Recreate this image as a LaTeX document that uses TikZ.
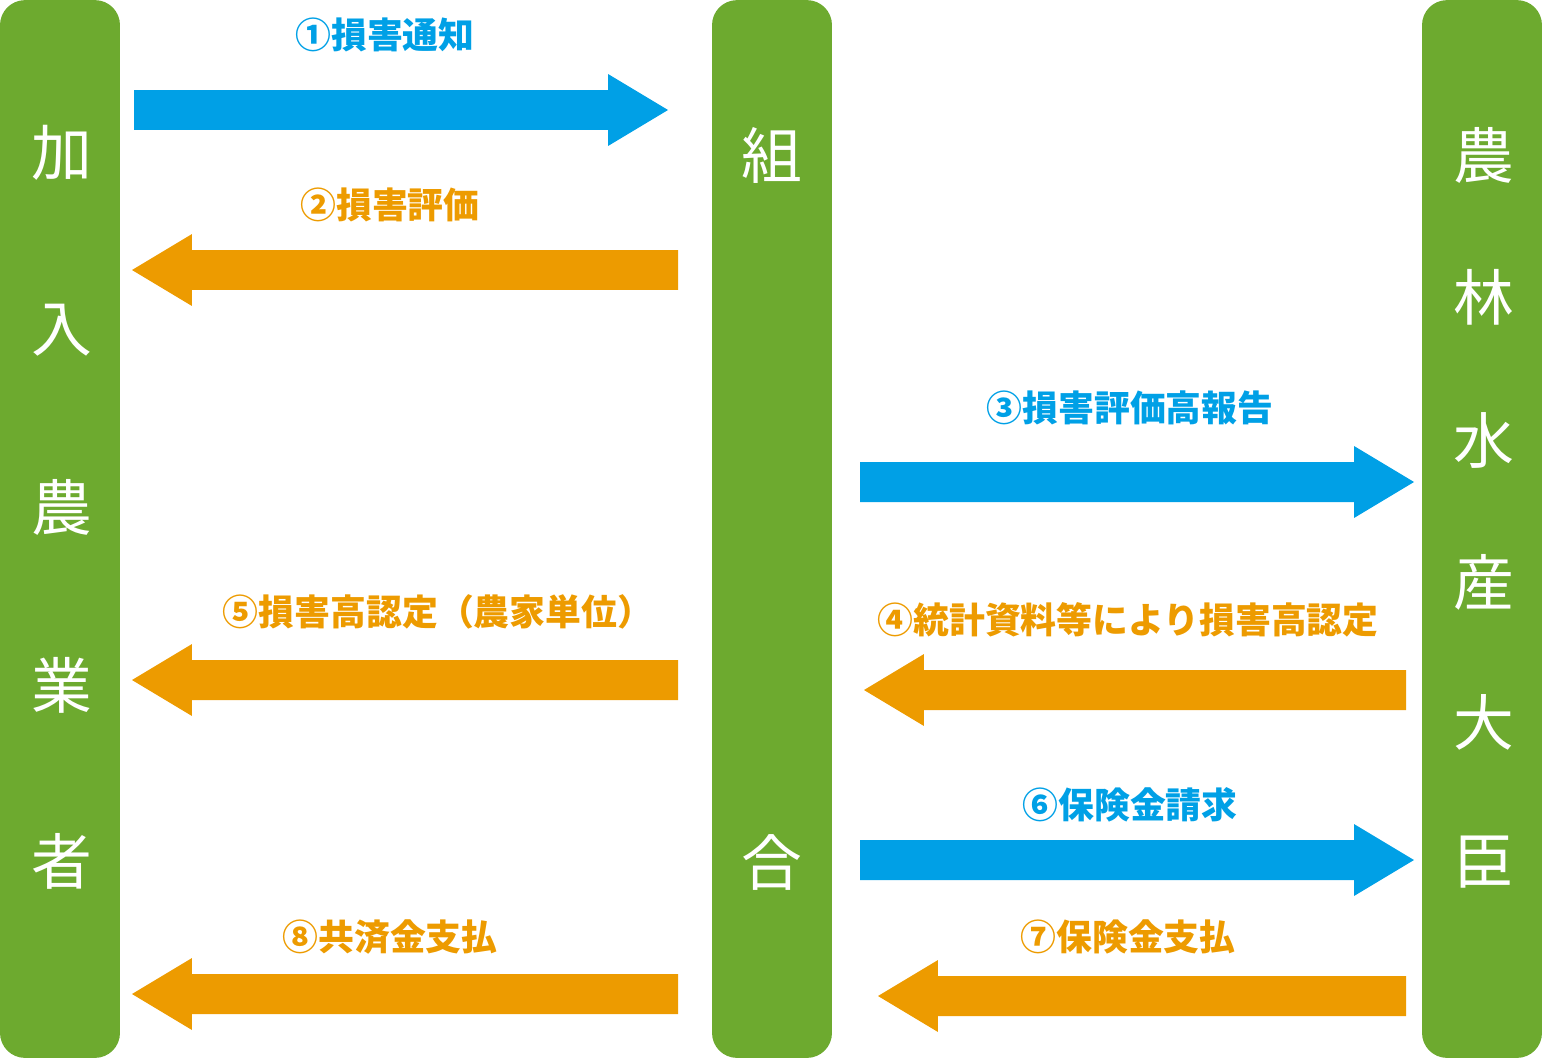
\documentclass[tikz,border=0pt]{standalone}
\usepackage{fontspec}
\setmainfont{Noto Sans CJK JP}
\usetikzlibrary{calc}

\definecolor{bargreen}{HTML}{6DAA2F}
\definecolor{sendblue}{HTML}{00A0E6}
\definecolor{backorange}{HTML}{ED9B00}

\tikzset{
    fatarrow/.style={
        to path={
            let \p1=(\tikztostart),
                \p2=(\tikztotarget),
                \p3=($(\tikztotarget)!1.2cm!(\tikztostart)$) in
            (\x1,\y1+0.4cm) -- (\x3,\y1+0.4cm) -- (\x3,\y1+0.72cm)
            -- (\x2,\y2)
            -- (\x3,\y1-0.72cm) -- (\x3,\y1-0.4cm) -- (\x1,\y1-0.4cm) -- cycle
        }
    }
}

\tikzstyle{bar} = [
    rectangle,
    rounded corners=0.5cm,
    minimum width=2.4cm,
    minimum height=21.16cm,
    inner sep=0pt,
    fill=bargreen
]
\tikzstyle{barchar} = [
    text=white,
    inner sep=0pt,
    font=\fontsize{34.6}{40}\selectfont
]
\tikzstyle{sendlabel} = [
    text=sendblue,
    inner sep=0pt,
    font=\bfseries\fontsize{20.4}{24}\selectfont
]
\tikzstyle{backlabel} = [
    text=backorange,
    inner sep=0pt,
    font=\bfseries\fontsize{20.4}{24}\selectfont
]
\tikzstyle{send} = [fill=sendblue, fatarrow]
\tikzstyle{back} = [fill=backorange, fatarrow]

\begin{document}
\begin{tikzpicture}[x=0.02cm, y=-0.02cm]

\useasboundingbox (0,0) rectangle (1542,1058);

% the three parties
\node (farmer) [bar] at (60,529) {};
\node (union) [bar] at (772,529) {};
\node (minister) [bar] at (1482,529) {};

\node (farmer1) [barchar] at (62,153) {加};
\node (farmer2) [barchar] at (62,330) {入};
\node (farmer3) [barchar] at (62,507) {農};
\node (farmer4) [barchar] at (62,685) {業};
\node (farmer5) [barchar] at (62,861) {者};

\node (union1) [barchar] at (772,155) {組};
\node (union2) [barchar] at (772,862) {合};

\node (minister1) [barchar] at (1484,155) {農};
\node (minister2) [barchar] at (1484,297) {林};
\node (minister3) [barchar] at (1484,440) {水};
\node (minister4) [barchar] at (1484,582) {産};
\node (minister5) [barchar] at (1484,722) {大};
\node (minister6) [barchar] at (1484,862) {臣};

% arrow ends
\coordinate (a1s) at (134,110);
\coordinate (a1e) at (668,110);
\coordinate (a2s) at (678,270);
\coordinate (a2e) at (132,270);
\coordinate (a3s) at (860,482);
\coordinate (a3e) at (1414,482);
\coordinate (a4s) at (1406,690);
\coordinate (a4e) at (864,690);
\coordinate (a5s) at (678,680);
\coordinate (a5e) at (132,680);
\coordinate (a6s) at (860,860);
\coordinate (a6e) at (1414,860);
\coordinate (a7s) at (1406,996);
\coordinate (a7e) at (878,996);
\coordinate (a8s) at (678,994);
\coordinate (a8e) at (132,994);

\path [send] (a1s) to (a1e);
\path [back] (a2s) to (a2e);
\path [send] (a3s) to (a3e);
\path [back] (a4s) to (a4e);
\path [back] (a5s) to (a5e);
\path [send] (a6s) to (a6e);
\path [back] (a7s) to (a7e);
\path [back] (a8s) to (a8e);

% labels
\node (l1) [sendlabel] at (385,35) {①損害通知};
\node (l2) [backlabel] at (390,205) {②損害評価};
\node (l3) [sendlabel] at (1130,408) {③損害評価高報告};
\node (l4) [backlabel] at (1128,620) {④統計資料等により損害高認定};
\node (l5) [backlabel] at (438,612) {⑤損害高認定（農家単位）};
\node (l6) [sendlabel] at (1130,805) {⑥保険金請求};
\node (l7) [backlabel] at (1128,937) {⑦保険金支払};
\node (l8) [backlabel] at (390,937) {⑧共済金支払};

\end{tikzpicture}
\end{document}
